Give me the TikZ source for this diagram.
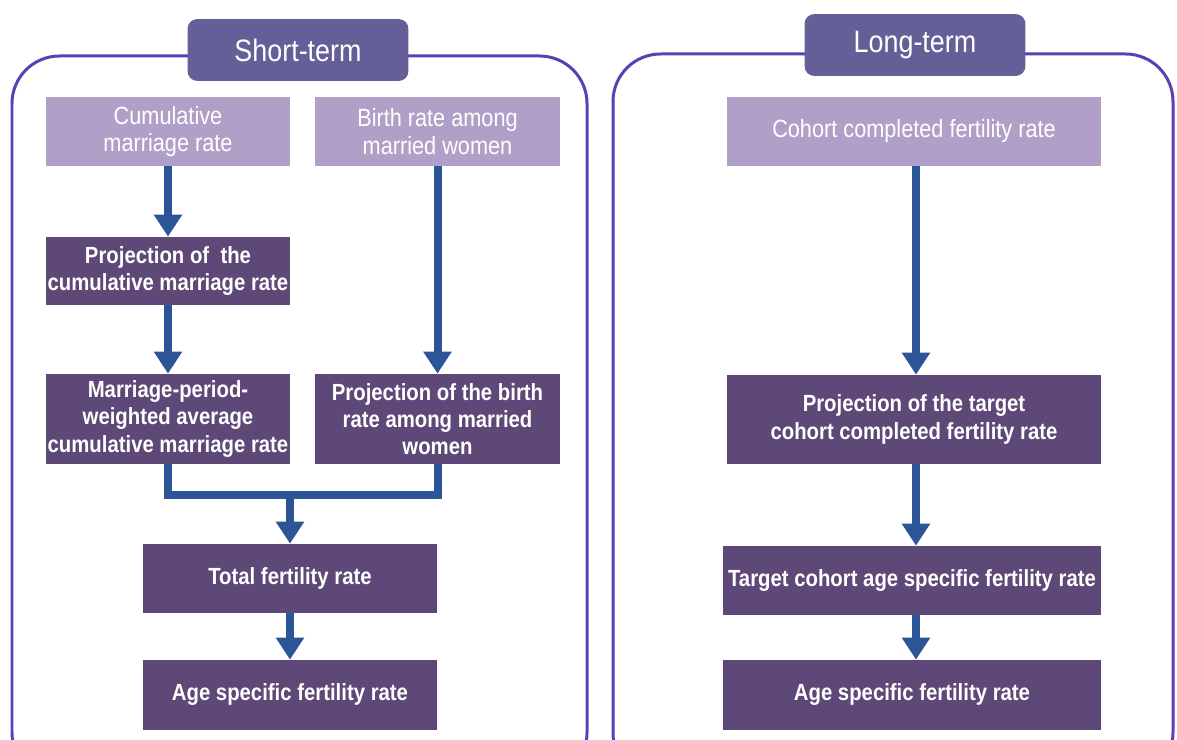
\documentclass[tikz,border=0pt]{standalone}
\usepackage{fontspec}
\setmainfont{Liberation Sans}[FakeStretch=0.87]
\usepackage{tikz}
\usetikzlibrary{arrows.meta,positioning,calc}
\definecolor{framepurple}{RGB}{90,64,180}
\definecolor{titlepurple}{RGB}{101,95,151}
\definecolor{lightbox}{RGB}{176,159,199}
\definecolor{darkbox}{RGB}{94,72,119}
\definecolor{flowblue}{RGB}{43,85,151}

\begin{document}
\begin{tikzpicture}[x=0.02cm,y=-0.02cm,
    frame/.style={draw=framepurple, line width=0.06cm, rounded corners=0.95cm},
    titlebox/.style={fill=titlepurple, rounded corners=0.2cm, text=white,
      minimum width=4.42cm, minimum height=1.24cm, font=\fontsize{17.6}{20}\selectfont},
    inbox/.style={fill=lightbox, text=white, align=center, inner sep=0pt,
      font=\fontsize{14.2}{15.8}\selectfont},
    stepbox/.style={fill=darkbox, text=white, align=center, inner sep=0pt,
      font=\bfseries\fontsize{13.3}{15.5}\selectfont},
    flow/.style={draw=flowblue, line width=0.16cm},
    arr/.style={flow, -{Triangle[width=0.54cm,length=0.44cm]}}]
  \clip (0,0) rectangle (1177,740);

  % outer frames
  \draw[frame] (12,56) rectangle (587,780);
  \draw[frame] (613,54) rectangle (1173,780);
  \node[titlebox] (short) at (298,50) {Short-term};
  \node[titlebox] (long) at (915,45) {Long-term};

  % short-term
  \node[inbox, minimum width=4.88cm, minimum height=1.38cm] (cmr) at (168,131.5) {Cumulative\\marriage rate};
  \node[inbox, minimum width=4.9cm, minimum height=1.38cm] (brm) at (437.5,131.5) {Birth rate among\\married women};
  \node[stepbox, minimum width=4.88cm, minimum height=1.36cm] (pcmr) at (168,271) {Projection of\ \ the\\cumulative marriage rate};
  \node[stepbox, minimum width=4.88cm, minimum height=1.8cm] (mpw) at (168,419) {Marriage-period-\\weighted average\\cumulative marriage rate};
  \node[stepbox, minimum width=4.9cm, minimum height=1.8cm] (pbr) at (437.5,419) {Projection of the birth\\rate among married\\women};
  \node[stepbox, minimum width=5.88cm, minimum height=1.38cm] (tfr) at (290,578.5) {Total fertility rate};
  \node[stepbox, minimum width=5.88cm, minimum height=1.4cm] (asfrs) at (290,695) {Age specific fertility rate};

  % long-term
  \node[inbox, minimum width=7.48cm, minimum height=1.38cm] (ccfr) at (914,131.5) {Cohort completed fertility rate};
  \node[stepbox, minimum width=7.48cm, minimum height=1.78cm] (ptc) at (914,419.5) {Projection of the target\\cohort completed fertility rate};
  \node[stepbox, minimum width=7.56cm, minimum height=1.38cm] (tca) at (912,580.5) {Target cohort age specific fertility rate};
  \node[stepbox, minimum width=7.56cm, minimum height=1.4cm] (asfrl) at (912,695) {Age specific fertility rate};

  \draw[arr] (cmr) -- (pcmr);
  \draw[arr] (pcmr) -- (mpw);
  \draw[arr] (brm) -- (pbr);
  \coordinate (join) at ($(mpw.south)+(0,31)$);
  \draw[flow] (mpw.south) -- (join) -| (pbr.south);
  \draw[arr] (join -| tfr.north) -- (tfr.north);
  \draw[arr] (tfr) -- (asfrs);

  \draw[arr] (ccfr.south -| 916,0) -- (ptc.north -| 916,0);
  \draw[arr] (ptc.south -| 916,0) -- (tca.north -| 916,0);
  \draw[arr] (tca.south -| 916,0) -- (asfrl.north -| 916,0);
\end{tikzpicture}
\end{document}
